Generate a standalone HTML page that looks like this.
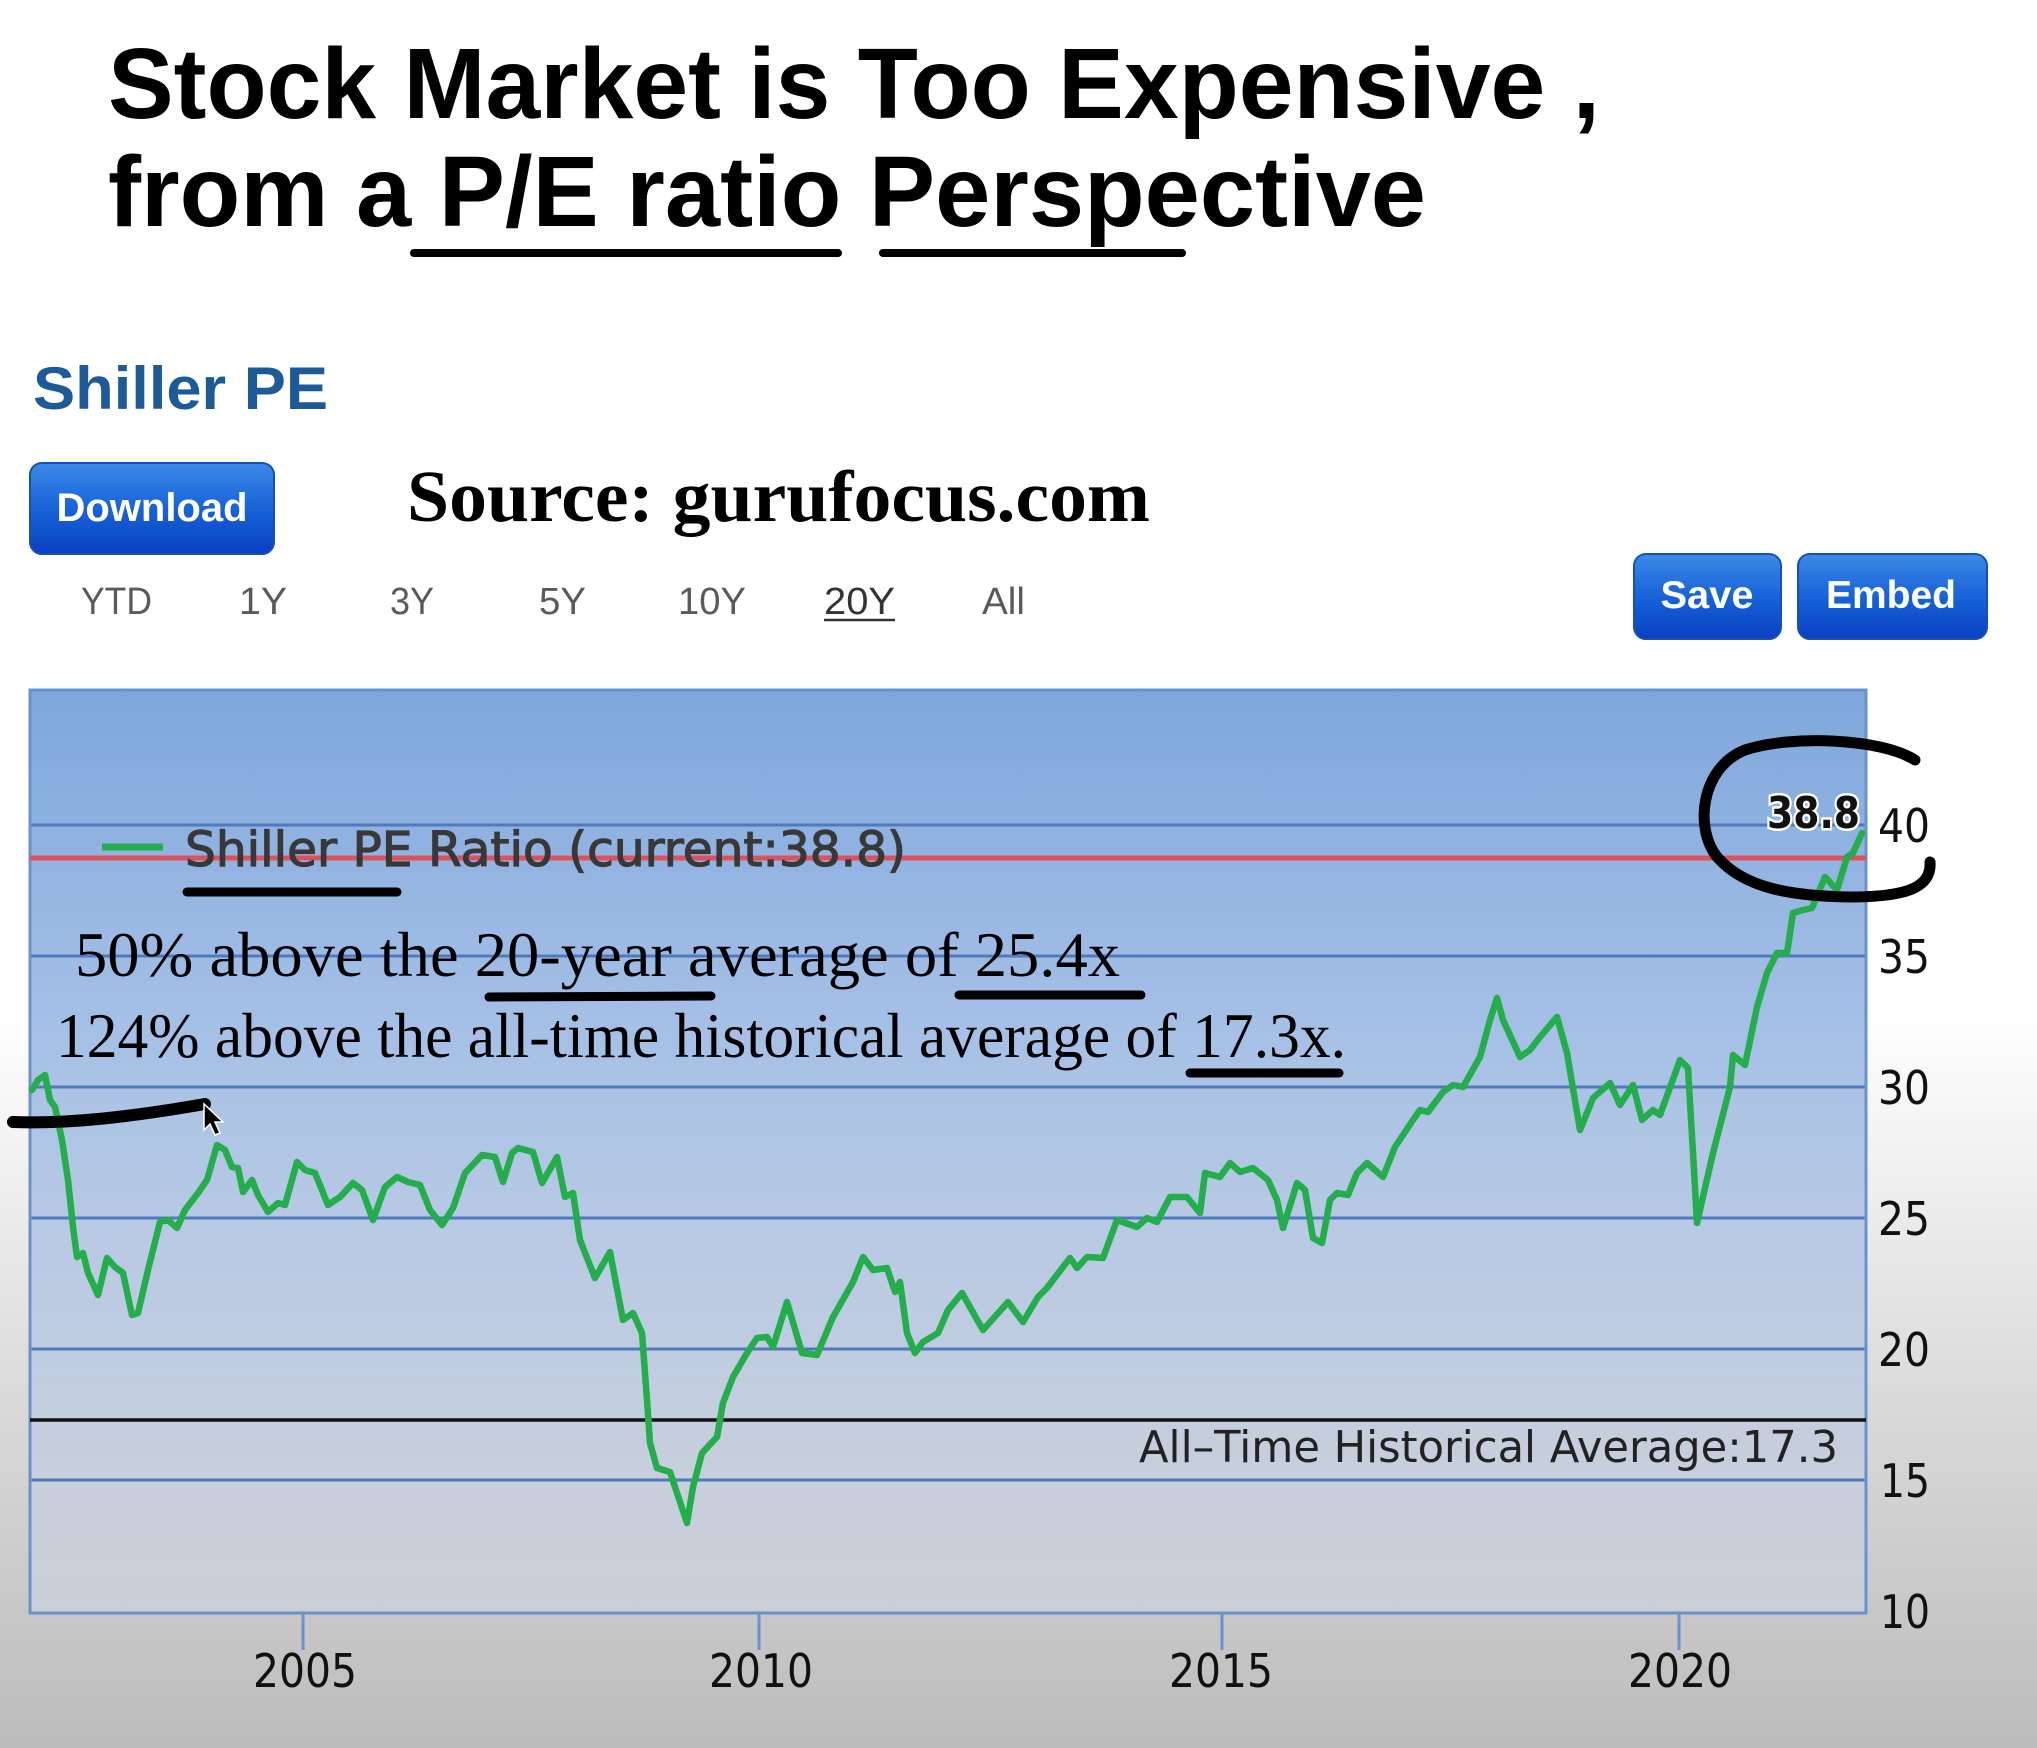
<!DOCTYPE html>
<html>
<head>
<meta charset="utf-8">
<style>
html,body{margin:0;padding:0;width:2037px;height:1748px;overflow:hidden;background:#fff;}
svg{display:block;}
</style>
</head>
<body>
<svg width="2037" height="1748" viewBox="0 0 2037 1748" xmlns="http://www.w3.org/2000/svg">
<defs>
<linearGradient id="pg" x1="0" y1="0" x2="0" y2="1748" gradientUnits="userSpaceOnUse">
<stop offset="0" stop-color="#ffffff"/>
<stop offset="0.58" stop-color="#ffffff"/>
<stop offset="0.8" stop-color="#dadada"/>
<stop offset="1" stop-color="#bcbcbc"/>
</linearGradient>
<linearGradient id="plotg" x1="0" y1="690" x2="0" y2="1613" gradientUnits="userSpaceOnUse">
<stop offset="0" stop-color="#7ea7dc"/>
<stop offset="0.35" stop-color="#a4bfe6"/>
<stop offset="0.6" stop-color="#b9cae4"/>
<stop offset="0.85" stop-color="#c7cfdc"/>
<stop offset="1" stop-color="#cbcfd6"/>
</linearGradient>
<linearGradient id="btn" x1="0" y1="0" x2="0" y2="1">
<stop offset="0" stop-color="#3d8ae8"/>
<stop offset="0.5" stop-color="#1763d8"/>
<stop offset="1" stop-color="#0a40c0"/>
</linearGradient>
</defs>

<rect x="0" y="0" width="2037" height="1748" fill="url(#pg)"/>

<!-- Title -->
<text x="108" y="118" font-family="'Liberation Sans', Arial, sans-serif" font-weight="bold" font-size="100" fill="#000" textLength="1492" lengthAdjust="spacingAndGlyphs">Stock Market is Too Expensive ,</text>
<text x="108" y="226" font-family="'Liberation Sans', Arial, sans-serif" font-weight="bold" font-size="100" fill="#000" textLength="1318" lengthAdjust="spacingAndGlyphs">from a P/E ratio Perspective</text>
<line x1="414" y1="253" x2="838" y2="253" stroke="#000" stroke-width="8" stroke-linecap="round"/>
<line x1="883" y1="253" x2="1182" y2="253" stroke="#000" stroke-width="8" stroke-linecap="round"/>

<!-- Shiller PE heading -->
<text x="33" y="409" font-family="'Liberation Sans', Arial, sans-serif" font-weight="bold" font-size="60" fill="#1d5a98" textLength="295" lengthAdjust="spacingAndGlyphs">Shiller PE</text>

<!-- Download button -->
<rect x="30" y="463" width="244" height="91" rx="12" ry="12" fill="url(#btn)" stroke="#1550b8" stroke-width="2"/>
<text x="152" y="521" text-anchor="middle" font-family="'Liberation Sans', Arial, sans-serif" font-weight="bold" font-size="40" fill="#fff" textLength="191" lengthAdjust="spacingAndGlyphs">Download</text>

<!-- Source -->
<text x="407" y="521" font-family="'Liberation Serif', 'Times New Roman', serif" font-weight="bold" font-size="73" fill="#000" textLength="743" lengthAdjust="spacingAndGlyphs">Source: gurufocus.com</text>

<!-- Range selectors -->
<g font-family="'Liberation Sans', Arial, sans-serif" font-size="38" fill="#5a5a5a">
<text x="81" y="614" textLength="71" lengthAdjust="spacingAndGlyphs">YTD</text>
<text x="239" y="614" textLength="48" lengthAdjust="spacingAndGlyphs">1Y</text>
<text x="390" y="614" textLength="44" lengthAdjust="spacingAndGlyphs">3Y</text>
<text x="539" y="614" textLength="47" lengthAdjust="spacingAndGlyphs">5Y</text>
<text x="678" y="614" textLength="68" lengthAdjust="spacingAndGlyphs">10Y</text>
<text x="824" y="614" textLength="71" lengthAdjust="spacingAndGlyphs" fill="#333">20Y</text>
<text x="982" y="614" textLength="43" lengthAdjust="spacingAndGlyphs">All</text>
</g>
<line x1="824" y1="620" x2="895" y2="620" stroke="#333" stroke-width="2.5"/>

<!-- Save / Embed -->
<rect x="1634" y="554" width="147" height="85" rx="12" ry="12" fill="url(#btn)" stroke="#1550b8" stroke-width="2"/>
<text x="1707" y="608" text-anchor="middle" font-family="'Liberation Sans', Arial, sans-serif" font-weight="bold" font-size="39" fill="#fff" textLength="93" lengthAdjust="spacingAndGlyphs">Save</text>
<rect x="1798" y="554" width="189" height="85" rx="12" ry="12" fill="url(#btn)" stroke="#1550b8" stroke-width="2"/>
<text x="1891" y="608" text-anchor="middle" font-family="'Liberation Sans', Arial, sans-serif" font-weight="bold" font-size="39" fill="#fff" textLength="130" lengthAdjust="spacingAndGlyphs">Embed</text>

<!-- Plot area -->
<rect x="30" y="690" width="1836" height="923" fill="url(#plotg)"/>
<g stroke="#5079be" stroke-width="3">
<line x1="30" y1="825" x2="1866" y2="825"/>
<line x1="30" y1="956" x2="1866" y2="956"/>
<line x1="30" y1="1087" x2="1866" y2="1087"/>
<line x1="30" y1="1218" x2="1866" y2="1218"/>
<line x1="30" y1="1349" x2="1866" y2="1349"/>
<line x1="30" y1="1480" x2="1866" y2="1480"/>
</g>
<rect x="30" y="690" width="1836" height="923" fill="none" stroke="#6a92cf" stroke-width="3"/>

<!-- x ticks -->
<g stroke="#6a92cf" stroke-width="3">
<line x1="303" y1="1613" x2="303" y2="1650"/>
<line x1="759" y1="1613" x2="759" y2="1650"/>
<line x1="1222" y1="1613" x2="1222" y2="1650"/>
<line x1="1679" y1="1613" x2="1679" y2="1650"/>
</g>
<g font-family="'DejaVu Sans', sans-serif" font-size="46" fill="#111" text-anchor="middle">
<text x="305" y="1687" textLength="104" lengthAdjust="spacingAndGlyphs">2005</text>
<text x="761" y="1687" textLength="104" lengthAdjust="spacingAndGlyphs">2010</text>
<text x="1221" y="1687" textLength="104" lengthAdjust="spacingAndGlyphs">2015</text>
<text x="1680" y="1687" textLength="104" lengthAdjust="spacingAndGlyphs">2020</text>
</g>

<!-- y labels -->
<g font-family="'DejaVu Sans', sans-serif" font-size="46" fill="#111">
<text x="1878" y="842" textLength="52" lengthAdjust="spacingAndGlyphs">40</text>
<text x="1878" y="973" textLength="52" lengthAdjust="spacingAndGlyphs">35</text>
<text x="1878" y="1104" textLength="52" lengthAdjust="spacingAndGlyphs">30</text>
<text x="1878" y="1235" textLength="52" lengthAdjust="spacingAndGlyphs">25</text>
<text x="1878" y="1366" textLength="52" lengthAdjust="spacingAndGlyphs">20</text>
<text x="1880" y="1497" textLength="50" lengthAdjust="spacingAndGlyphs">15</text>
<text x="1880" y="1628" textLength="50" lengthAdjust="spacingAndGlyphs">10</text>
</g>

<!-- average line -->
<line x1="30" y1="1420" x2="1866" y2="1420" stroke="#111" stroke-width="3.5"/>
<text x="1139" y="1462" font-family="'DejaVu Sans', sans-serif" font-size="44" fill="#222" textLength="699" lengthAdjust="spacingAndGlyphs">All–Time Historical Average:17.3</text>

<!-- current red line -->
<line x1="30" y1="858" x2="1866" y2="858" stroke="#d9525e" stroke-width="5"/>

<!-- green series -->
<polyline fill="none" stroke="#23ad4b" stroke-width="6.5" stroke-linejoin="round" stroke-linecap="round" points="
32,1090 38,1080 45,1075 50,1100 55,1107 62,1140 68,1180 73,1227 77,1257 83,1253 88,1273 98,1295 107,1258 115,1267 123,1273 132,1315 138,1313 148,1270 160,1222 168,1220 177,1228 185,1210 198,1193 207,1180 217,1145 225,1150 232,1167 238,1168 243,1192 252,1180 258,1195 268,1212 278,1203 285,1205 297,1162 305,1170 315,1173 328,1205 340,1197 353,1183 362,1190 373,1220 385,1187 397,1177 408,1182 420,1185 430,1210 442,1225 453,1208 465,1173 482,1155 495,1157 503,1182 512,1153 518,1148 533,1152 542,1183 557,1157 565,1197 573,1193 580,1240 595,1278 610,1252 623,1320 633,1313 642,1333 647,1400 650,1443 657,1468 670,1472 687,1523 693,1487 702,1453 717,1437 723,1403 733,1377 747,1353 757,1338 767,1337 773,1347 787,1302 802,1353 817,1355 833,1317 853,1282 863,1257 873,1270 887,1268 895,1292 900,1282 907,1333 915,1353 923,1342 938,1333 948,1310 962,1293 983,1330 1008,1302 1023,1322 1038,1297 1047,1288 1063,1267 1070,1258 1077,1268 1087,1257 1103,1258 1117,1220 1137,1227 1147,1218 1157,1222 1170,1197 1187,1197 1200,1213 1205,1173 1220,1177 1230,1163 1240,1172 1253,1168 1268,1180 1277,1200 1283,1228 1297,1183 1305,1190 1313,1238 1322,1243 1330,1200 1337,1193 1348,1195 1357,1173 1367,1163 1383,1177 1395,1147 1413,1120 1420,1110 1428,1112 1443,1092 1453,1085 1463,1087 1480,1057 1490,1020 1497,998 1503,1020 1520,1057 1530,1050 1540,1037 1557,1017 1567,1053 1580,1130 1593,1098 1610,1083 1620,1105 1633,1085 1642,1120 1653,1110 1660,1115 1680,1060 1688,1068 1693,1153 1697,1223 1713,1153 1730,1087 1733,1055 1745,1065 1757,1007 1767,973 1777,953 1787,953 1793,913 1803,910 1812,908 1825,877 1837,890 1847,857 1853,853 1862,833"/>

<!-- legend -->
<line x1="102" y1="847" x2="163" y2="847" stroke="#23ad4b" stroke-width="7"/>
<text x="185" y="866" font-family="'DejaVu Sans', sans-serif" font-size="48" fill="#383838" stroke="#383838" stroke-width="1.2" textLength="721" lengthAdjust="spacingAndGlyphs">Shiller PE Ratio (current:38.8)</text>

<!-- current value label -->
<text x="1767" y="828" font-family="'DejaVu Sans', sans-serif" font-weight="bold" font-size="44" fill="#111" stroke="#fff" stroke-width="5" paint-order="stroke" textLength="93" lengthAdjust="spacingAndGlyphs">38.8</text>

<!-- annotation text -->
<text x="75" y="976" font-family="'Liberation Serif', 'Times New Roman', serif" font-size="63" fill="#000" textLength="1045" lengthAdjust="spacingAndGlyphs">50% above the 20-year average of 25.4x</text>
<text x="56" y="1057" font-family="'Liberation Serif', 'Times New Roman', serif" font-size="63" fill="#000" textLength="1290" lengthAdjust="spacingAndGlyphs">124% above the all-time historical average of 17.3x.</text>

<!-- hand-drawn marks -->
<g stroke="#000" fill="none" stroke-linecap="round" stroke-linejoin="round">
<line x1="187" y1="892" x2="397" y2="892" stroke-width="9"/>
<line x1="489" y1="997" x2="711" y2="996" stroke-width="9"/>
<line x1="959" y1="995" x2="1141" y2="995" stroke-width="9"/>
<line x1="1190" y1="1073" x2="1339" y2="1073" stroke-width="9"/>
<path d="M13,1122 C70,1124 130,1117 205,1104" stroke-width="12"/>
<path d="M1915,760 C1880,738 1790,735 1745,750 C1700,768 1694,830 1718,858 C1745,888 1790,896 1850,897 C1900,897 1932,890 1930,862" stroke-width="11"/>
</g>
<!-- cursor -->
<polygon points="204,1104 204,1130 210,1124 215,1135 220,1133 215,1122 223,1122" fill="#000" stroke="#fff" stroke-width="1.5"/>
</svg>
</body>
</html>
